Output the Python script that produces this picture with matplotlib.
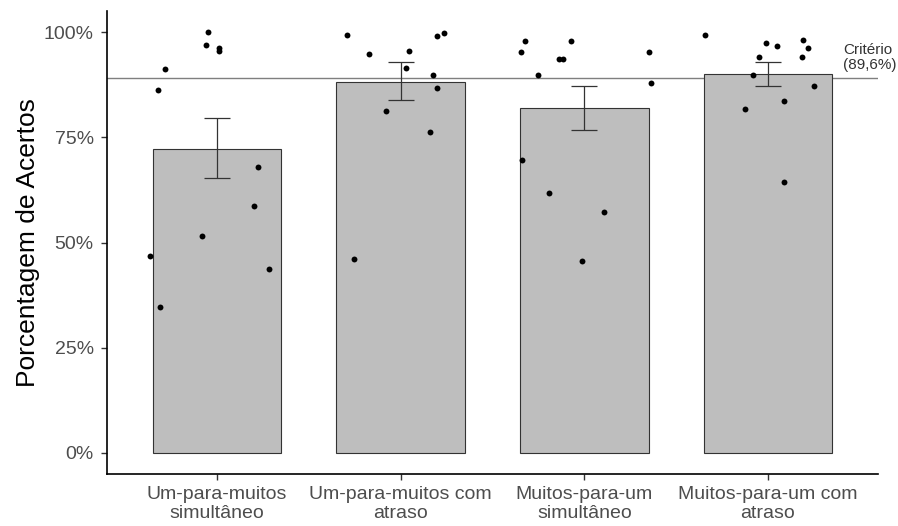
import matplotlib
matplotlib.use("Agg")
import matplotlib.pyplot as plt
import numpy as np

plt.rcParams['font.family'] = ['Liberation Sans', 'DejaVu Sans']

categories = ["Um-para-muitos\nsimultâneo", "Um-para-muitos com\natraso",
              "Muitos-para-um\nsimultâneo", "Muitos-para-um com\natraso"]
means = [0.722, 0.881, 0.819, 0.900]
err_low = [0.654, 0.838, 0.767, 0.873]
err_high = [0.795, 0.928, 0.872, 0.928]
criterion = 0.891
criterion_label = "Critério\n(89,6%)"

# individual participant scores per condition
points_g1 = [1.000, 0.970, 0.961, 0.956, 0.912, 0.862, 0.679, 0.586, 0.515, 0.467, 0.438, 0.346]
points_g2 = [0.993, 0.998, 0.990, 0.947, 0.956, 0.914, 0.897, 0.866, 0.813, 0.762, 0.461]
points_g3 = [0.979, 0.979, 0.952, 0.952, 0.937, 0.937, 0.899, 0.878, 0.695, 0.618, 0.573, 0.456]
points_g4 = [0.993, 0.973, 0.966, 0.980, 0.963, 0.940, 0.940, 0.898, 0.872, 0.836, 0.818, 0.643]
# horizontal jitter (category units)
jitter_g1 = [-0.050, -0.061, 0.008, 0.008, -0.282, -0.320, 0.221, 0.199, -0.083, -0.368, 0.284, -0.310]
jitter_g2 = [-0.293, 0.236, 0.195, -0.173, 0.045, 0.029, 0.174, 0.200, -0.080, 0.162, -0.256]
jitter_g3 = [-0.323, -0.075, -0.344, 0.350, -0.136, -0.117, -0.253, 0.364, -0.339, -0.192, 0.106, -0.015]
jitter_g4 = [-0.343, -0.009, 0.049, 0.192, 0.220, -0.047, 0.187, -0.083, 0.254, 0.087, -0.125, 0.087]

points = [points_g1, points_g2, points_g3, points_g4]
jitters = [jitter_g1, jitter_g2, jitter_g3, jitter_g4]

fig = plt.figure(figsize=(8.98, 5.26), dpi=100)
ax = fig.add_axes([107/898, 1 - 474/526, (878-107)/898, (474-11)/526])

x = np.arange(1, len(categories) + 1)
ax.bar(x, means, width=0.7, color="#BEBEBE", edgecolor="#333333", linewidth=0.8, zorder=2)
means_a = np.array(means)
yerr = np.vstack([means_a - np.array(err_low), np.array(err_high) - means_a])
ax.errorbar(x, means, yerr=yerr, fmt="none", ecolor="#333333", elinewidth=0.9,
            capsize=9.5, capthick=0.9, zorder=3)

for i, (pts, jit) in enumerate(zip(points, jitters)):
    ax.scatter(x[i] + np.array(jit), pts, s=18, color="black", zorder=4, linewidths=0)

ax.axhline(criterion, color="#7F7F7F", linewidth=1.0, zorder=1)
ax.text(4.41, criterion + 0.015, criterion_label, fontsize=11, color="#333333",
        ha="left", va="bottom", linespacing=1.05, clip_on=False)

ax.set_xlim(0.4, 4.6)
ax.set_ylim(-0.05, 1.05)
ax.set_xticks(x)
ax.set_xticklabels(categories, fontsize=14, color="#4D4D4D", linespacing=1.2)
ax.set_yticks([0, 0.25, 0.5, 0.75, 1.0])
ax.set_yticklabels(["0%", "25%", "50%", "75%", "100%"], fontsize=14, color="#4D4D4D")
ax.set_ylabel("Porcentagem de Acertos", fontsize=19, color="black", labelpad=3)

for side in ["top", "right"]:
    ax.spines[side].set_visible(False)
for side in ["left", "bottom"]:
    ax.spines[side].set_linewidth(1.2)
    ax.spines[side].set_color("black")
ax.tick_params(axis="both", length=4.5, width=1.0, color="#333333")
ax.tick_params(axis="x", pad=4)
ax.tick_params(axis="y", pad=5)

fig.savefig("out.png", dpi=100)
